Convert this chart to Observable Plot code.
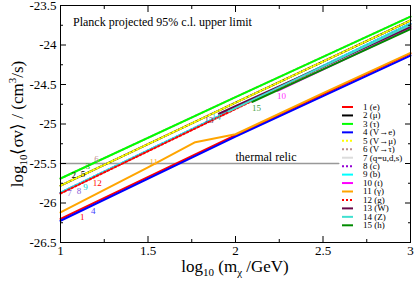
<!DOCTYPE html>
<html><head><meta charset="utf-8">
<script src="https://cdn.jsdelivr.net/npm/d3@7"></script>
<script src="https://cdn.jsdelivr.net/npm/@observablehq/plot@0.6"></script>
<style>body{margin:0;background:#fff}</style>
</head><body><div id="chart"></div>
<script>
// ---- data ----
const seriesIds    = [1, 2, 3, 4, 5, 6, 7, 8, 9, 10, 11, 12, 13, 14, 15];
const seriesNames  = ["e", "μ", "τ", "V→e", "V→μ", "V→τ", "q=u,d,s", "c", "b", "t", "γ", "g", "W", "Z", "h"];
const seriesColors = ["#ff0000", "#000000", "#00ff00", "#0000ff", "#ffff00", "#bc8f8f", "#dcdcdc", "#9400d3", "#00ffff", "#ff00ff", "#ffa500", "#ff0000", "#670748", "#40e0d0", "#008b00"];
const seriesDashed = [false, false, false, false, true, true, false, true, false, false, false, true, false, false, false];
const labelColors  = ["#ff0000", "#000000", "#20b020", "#4040ff", "#000000", "#bc8f8f", "#8a5fd8", "#8a5fd8", "#00d0d0", "#ff30ff", "#ffb030", "#ff0000", "#7a3a6a", "#40c8c0", "#40a040"];

// x = log10(m/GeV), y = log10 <sigma v>
const x1 = [1, 2, 3],  y1 = [-26.20, -25.14, -24.11];        // e
const x2 = [1, 2, 3],  y2 = [-25.78, -24.73, -23.69];        // mu
const x3 = [1, 2, 3],  y3 = [-25.69, -24.66, -23.64];        // tau
const x4 = [1, 2, 3],  y4 = [-26.225, -25.16, -24.135];      // V->e
const x5 = [1, 2, 3],  y5 = [-25.78, -24.73, -23.69];        // V->mu
const x6 = [1, 2, 3],  y6 = [-25.69, -24.66, -23.64];        // V->tau
const x7 = [1, 2, 3],  y7 = [-25.87, -24.80, -23.73];        // q
const x8 = [1, 2, 3],  y8 = [-25.87, -24.80, -23.73];        // c
const x9 = [1, 2, 3],  y9 = [-25.87, -24.80, -23.73];        // b
const x10 = [2.24, 3], y10 = [-24.58, -23.79];               // t
const x11 = [1, 1.5, 1.77, 2.0, 2.5, 3], y11 = [-26.12, -25.55, -25.23, -25.13, -24.61, -24.10]; // gamma
const x12 = [1, 2, 3], y12 = [-25.88, -24.81, -23.745];      // g
const x13 = [1.905, 3], y13 = [-24.87, -23.77];              // W
const x14 = [1.96, 3],  y14 = [-24.84, -23.745];             // Z
const x15 = [2.097, 3], y15 = [-24.72, -23.80];              // h
const seriesX = [x1, x2, x3, x4, x5, x6, x7, x8, x9, x10, x11, x12, x13, x14, x15];
const seriesY = [y1, y2, y3, y4, y5, y6, y7, y8, y9, y10, y11, y12, y13, y14, y15];

// on-curve number labels
const labelIds = [1, 4, 7, 8, 9, 12, 2, 5, 3, 6, 11, 13, 14, 15, 10];
const labelX   = [1.124, 1.187, 1.051, 1.105, 1.143, 1.21, 1.076, 1.128, 1.156, 1.206, 1.533, 1.848, 1.89, 2.12, 2.263];
const labelY   = [-26.18, -26.10, -25.88, -25.85, -25.80, -25.75, -25.65, -25.63, -25.53, -25.44, -25.48, -24.95, -24.91, -24.80, -24.65];

const relicX = [1, 2.59];
const relicY = -25.5;
const relicText = "thermal relic";
const planckText = "Planck projected 95% c.l. upper limit";

const xMajor = [1, 1.5, 2, 2.5, 3];
const xMinor = [1.25, 1.75, 2.25, 2.75];
const yMajor = [-26.5, -26, -25.5, -25, -24.5, -24, -23.5];
const yMinor = [-26.25, -25.75, -25.25, -24.75, -24.25, -23.75];

const drawOrder = [7, 8, 6, 1, 4, 2, 5, 3, 9, 12, 10, 11, 13, 14, 15];

// ---- build ----
const rows = [];
seriesIds.forEach((id, i) => {
  seriesX[i].forEach((x, j) => rows.push({id, x, y: seriesY[i][j]}));
});
const labels = labelIds.map((id, i) => ({id, x: labelX[i], y: labelY[i], c: labelColors[id - 1]}));
const fmt = d => String(d);
const blank = () => "";

const lineMarks = drawOrder.map(id => {
  const i = id - 1;
  return Plot.line(rows.filter(r => r.id === id), {
    x: "x", y: "y", stroke: seriesColors[i], strokeWidth: 2,
    strokeDasharray: seriesDashed[i] ? "2,2" : null
  });
});

const plot = Plot.plot({
  width: 415, height: 283,
  marginLeft: 60, marginRight: 5, marginTop: 5, marginBottom: 41,
  x: {domain: [1, 3]},
  y: {domain: [-26.5, -23.5]},
  style: {fontFamily: "'Liberation Serif', serif", fontSize: "13px", background: "#fff", color: "#000"},
  marks: [
    Plot.line(relicX.map(x => ({x, y: relicY})), {x: "x", y: "y", stroke: "#999", strokeWidth: 1.5}),
    ...lineMarks,
    Plot.text(labels, {x: "x", y: "y", text: d => String(d.id), fill: "c", fontSize: 9}),
    Plot.text([relicText], {x: 2.0, y: relicY, text: d => d, textAnchor: "start", lineAnchor: "bottom", dy: -3, fontSize: 12}),
    // axes: inward ticks
    Plot.axisX({anchor: "bottom", ticks: xMajor, tickSize: -6, tickFormat: blank, label: null}),
    Plot.axisX({anchor: "bottom", ticks: xMinor, tickSize: -3, tickFormat: blank, label: null}),
    Plot.axisX({anchor: "top", ticks: xMajor, tickSize: -6, tickFormat: blank, label: null}),
    Plot.axisX({anchor: "top", ticks: xMinor, tickSize: -3, tickFormat: blank, label: null}),
    Plot.axisY({anchor: "left", ticks: yMajor, tickSize: -6, tickFormat: blank, label: null}),
    Plot.axisY({anchor: "left", ticks: yMinor, tickSize: -3, tickFormat: blank, label: null}),
    Plot.axisY({anchor: "right", ticks: yMajor, tickSize: -6, tickFormat: blank, label: null}),
    Plot.axisY({anchor: "right", ticks: yMinor, tickSize: -3, tickFormat: blank, label: null}),
    Plot.axisX({anchor: "bottom", ticks: xMajor, tickSize: 0, tickPadding: 3, tickFormat: fmt, label: null, fontSize: 13}),
    Plot.axisY({anchor: "left", ticks: yMajor, tickSize: 0, tickPadding: 4, tickFormat: fmt, label: null, fontSize: 13}),
    Plot.frame({stroke: "#000", strokeWidth: 1})
  ]
});

const svg = d3.select(plot);
svg.style("overflow", "visible");
// Planck text
svg.append("text").attr("x", 73).attr("y", 25.5).attr("text-anchor", "start").attr("font-size", 12).attr("fill", "#000").text(planckText);

// axis titles
const xt = svg.append("text").attr("x", 235).attr("y", 272).attr("text-anchor", "middle").attr("font-size", 17).attr("fill", "#000");
xt.append("tspan").text("log");
xt.append("tspan").attr("font-size", 11).attr("dy", 4).text("10");
xt.append("tspan").attr("dy", -4).text(" (m");
xt.append("tspan").attr("font-size", 11).attr("dy", 4).text("χ");
xt.append("tspan").attr("dy", -4).text(" /GeV)");

const yt = svg.append("text").attr("transform", "translate(23,124) rotate(-90)").attr("text-anchor", "middle").attr("font-size", 17).attr("fill", "#000");
yt.append("tspan").text("log");
yt.append("tspan").attr("font-size", 11).attr("dy", 4).text("10");
yt.append("tspan").attr("dy", -4).text("⟨σv⟩ / (cm");
yt.append("tspan").attr("font-size", 11).attr("dy", -7).text("3");
yt.append("tspan").attr("dy", 7).text("/s)");

// legend
const lg = svg.append("g").attr("font-size", 9).attr("fill", "#000").attr("text-anchor", "start");
seriesIds.forEach((id, i) => {
  const y = 107 + 8.45 * i;
  lg.append("line").attr("x1", 342).attr("x2", 353).attr("y1", y).attr("y2", y)
    .attr("stroke", seriesColors[i]).attr("stroke-width", 2)
    .attr("stroke-dasharray", seriesDashed[i] ? "2,2" : null);
  lg.append("text").attr("x", 363).attr("y", y).attr("dy", "0.32em").attr("text-anchor", "start").text(`${id} (${seriesNames[i]})`);
});

document.getElementById("chart").appendChild(plot);
</script>
</body></html>
